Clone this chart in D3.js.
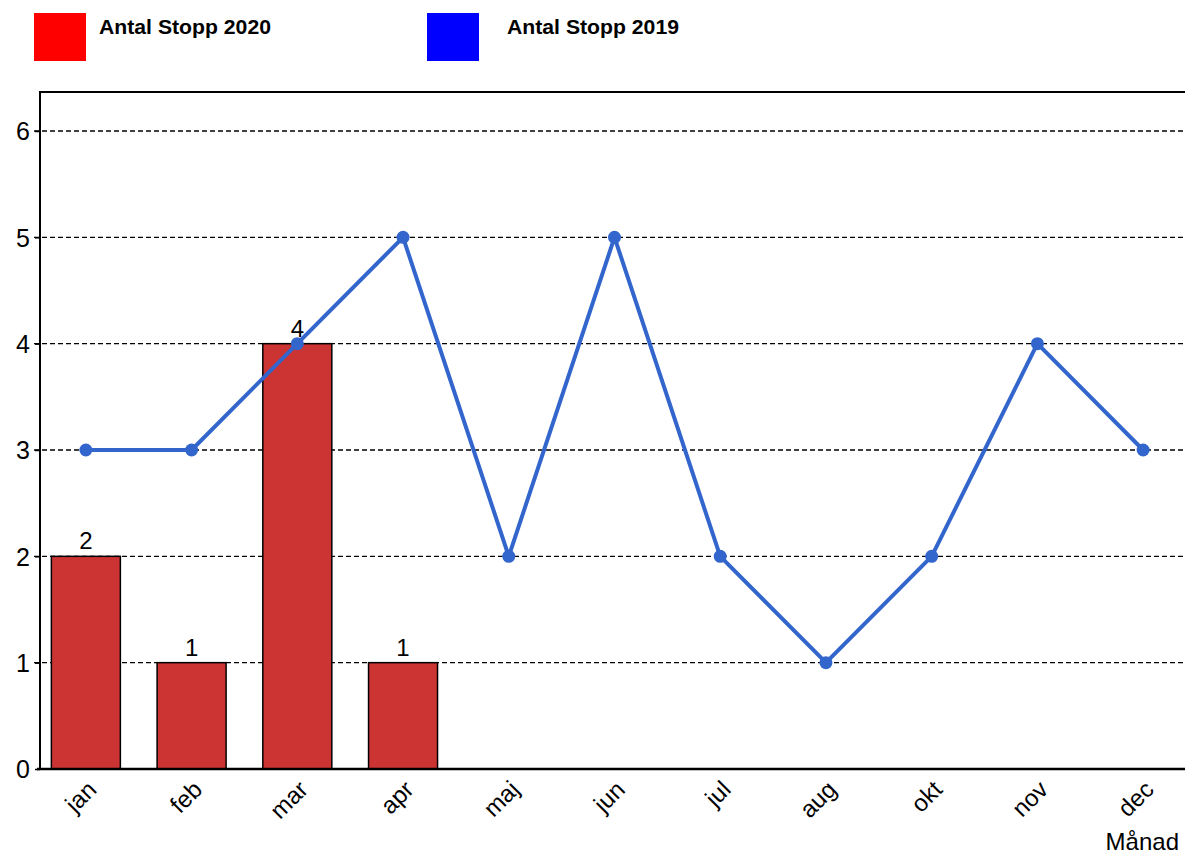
<!DOCTYPE html>
<html><head><meta charset="utf-8">
<script src="https://cdn.jsdelivr.net/npm/d3@7"></script>
<style>body{margin:0;background:#fff;font-family:Arial,"Liberation Sans",sans-serif}</style>
</head><body><svg id="c" width="1185" height="854"></svg>
<script>
const months = ["jan","feb","mar","apr","maj","jun","jul","aug","okt","nov","dec"];
const stopp2020 = [2,1,4,1];
const stopp2019 = [3,3,4,5,2,5,2,1,2,4,3];
const yTicks = [0,1,2,3,4,5,6];
const legendLabels = ["Antal Stopp 2020","Antal Stopp 2019"];
const legendColors = ["#ff0000","#0000ff"];

const svg = d3.select("#c");
const font = "Arial, 'Liberation Sans', sans-serif";
const x = d3.scaleBand().domain(months).range([33, 1196]);
const y = d3.scaleLinear().domain([0,6]).range([769,131]);
const axisX = 40, topY = 92;

// gridlines
svg.append("g").selectAll("line").data(yTicks.filter(d=>d>0)).join("line")
  .attr("x1", axisX-6).attr("x2", 1185).attr("y1", d=>y(d)).attr("y2", d=>y(d))
  .attr("stroke","#000").attr("stroke-width",1.3).attr("stroke-dasharray","5,3");

// top border
svg.append("line").attr("x1",axisX).attr("x2",1185).attr("y1",topY).attr("y2",topY)
  .attr("stroke","#000").attr("stroke-width",2);

// bars
const bw = 69;
svg.append("g").selectAll("rect").data(stopp2020).join("rect")
  .attr("x",(d,i)=>x(months[i])+x.bandwidth()/2-bw/2).attr("width",bw)
  .attr("y",d=>y(d)).attr("height",d=>y(0)-y(d))
  .attr("fill","#cc3333").attr("stroke","#000").attr("stroke-width",1.5);

// bar labels
svg.append("g").selectAll("text").data(stopp2020).join("text")
  .attr("x",(d,i)=>x(months[i])+x.bandwidth()/2).attr("y",d=>y(d)-7)
  .attr("text-anchor","middle").attr("font-family",font).attr("font-size",24).text(d=>d);

// line
const cx = (d,i)=>x(months[i])+x.bandwidth()/2;
svg.append("path").datum(stopp2019)
  .attr("d", d3.line().x(cx).y(d=>y(d)))
  .attr("fill","none").attr("stroke","#3366cc").attr("stroke-width",4).attr("stroke-linejoin","round");
svg.append("g").selectAll("circle").data(stopp2019).join("circle")
  .attr("cx",cx).attr("cy",d=>y(d)).attr("r",6.5).attr("fill","#3366cc");

// y axis
const yAxis = svg.append("g").attr("transform",`translate(${axisX},0)`)
  .call(d3.axisLeft(y).tickValues(yTicks).tickSize(5).tickFormat(d3.format("d")));
yAxis.select(".domain").remove();
yAxis.selectAll("line").attr("stroke","#000").attr("stroke-width",1.5);
yAxis.selectAll("text").attr("font-family",font).attr("font-size",25).attr("fill","#000").attr("x",-10).attr("dy","0.35em");
svg.append("line").attr("x1",axisX).attr("x2",axisX).attr("y1",topY-1).attr("y2",770)
  .attr("stroke","#000").attr("stroke-width",2);

// x axis
svg.append("line").attr("x1",axisX-3).attr("x2",1185).attr("y1",769).attr("y2",769)
  .attr("stroke","#000").attr("stroke-width",2.5);
const xAxis = svg.append("g").attr("transform","translate(0,769)")
  .call(d3.axisBottom(x).tickSize(0).tickPadding(0));
xAxis.select(".domain").remove();
xAxis.selectAll("text").attr("font-family",font).attr("font-size",24).attr("fill","#000")
  .attr("text-anchor","end").attr("dy",0).attr("y",0)
  .attr("transform","translate(12,22) rotate(-45)");

svg.append("text").attr("x",1179).attr("y",850).attr("text-anchor","end")
  .attr("font-family",font).attr("font-size",24).text("Månad");

// legend
const lg = svg.append("g").selectAll("g").data(legendLabels).join("g")
  .attr("transform",(d,i)=>`translate(${[34,427][i]},13)`);
lg.append("rect").attr("width",52).attr("height",48).attr("fill",(d,i)=>legendColors[i]);
lg.append("text").attr("x",(d,i)=>[65,80][i]).attr("y",21).attr("font-family",font).attr("font-size",20)
  .attr("font-weight","bold").attr("textLength",172).attr("lengthAdjust","spacingAndGlyphs").text(d=>d);
</script></body></html>
